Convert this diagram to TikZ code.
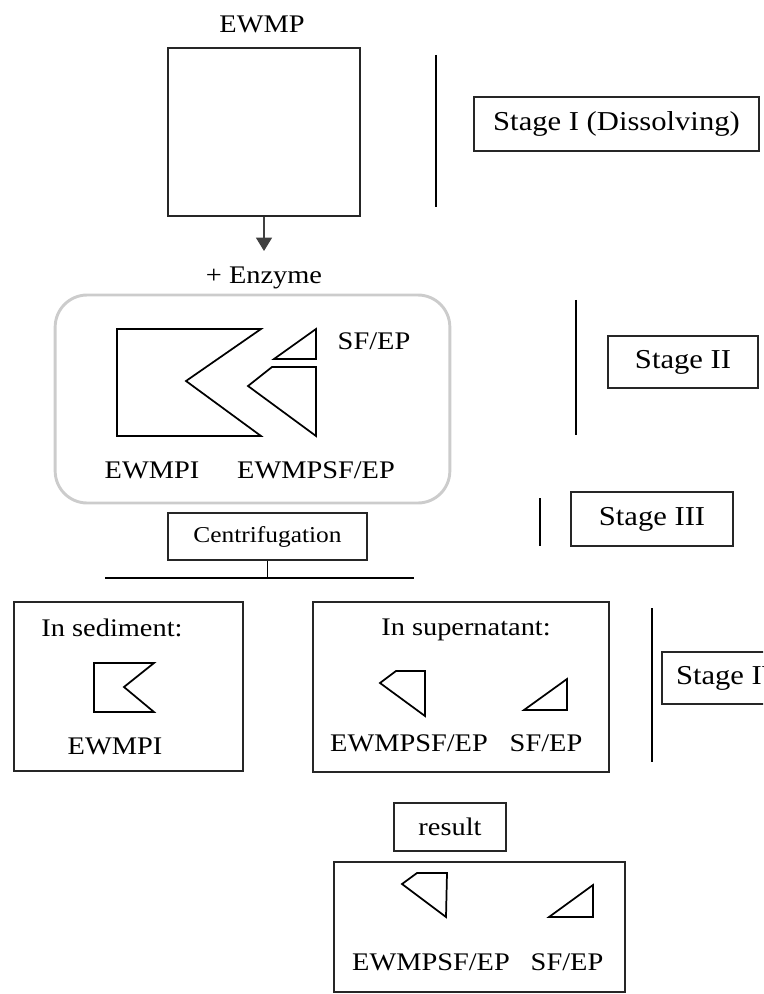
\documentclass[tikz,border=0pt]{standalone}
\usepackage{fontspec}
\setmainfont{Liberation Serif}[FakeStretch=1.12]
\usetikzlibrary{arrows.meta}

\tikzset{
  lbl/.style={font=\fontsize{19}{22}\selectfont,inner sep=0pt},
  stagebox/.style={draw=black!85,line width=1.2pt,font=\fontsize{20.5}{24}\selectfont},
  framebox/.style={draw=black!85,line width=1.2pt},
  piece/.style={line width=1.3pt},
  stagebar/.style={line width=1.8pt},
}

\begin{document}
\begin{tikzpicture}[x=0.75pt,y=-0.75pt,>={Triangle[width=12pt,length=10pt]}]
        \useasboundingbox(0,0)rectangle(763,994);
        \clip(0,0)rectangle(763,994);
        % stage I
        \node[lbl](ewmplbl)at(262,24){EWMP};
        \node[framebox,minimum width=144pt,minimum height=126pt](ewmp)at(264,132){};
        \coordinate(tip)at(264,251);
        \draw[->,black!75,line width=0.8pt](ewmp.south)--(tip);
        \draw[stagebar](436,55)--(436,207);
        \node[stagebox,minimum width=213.75pt,minimum height=40.5pt](stage1)at(616.5,124){Stage I (Dissolving)};
        % stage II
        \node[lbl](enzyme)at(264,278){+ Enzyme};
        \node[draw=gray!40,line width=2.2pt,rounded corners=24pt,minimum width=296pt,minimum height=156pt](mix)at(252.5,399){};
        \draw[piece](117,329)--(261,329)--(186,381)--(261,436)--(117,436)--cycle;
        \draw[piece](274,359)--(316,329)--(316,359)--cycle;
        \draw[piece](272,367)--(316,367)--(316,436)--(248,386)--cycle;
        \node[lbl](sf1)at(374,341){SF/EP};
        \node[lbl](ewmpi1)at(152,470){EWMPI};
        \node[lbl](ewmpsf1)at(316,470){EWMPSF/EP};
        \draw[stagebar](576,300)--(576,435);
        \node[stagebox,minimum width=112.5pt,minimum height=39pt](stage2)at(683,362){Stage II};
        % stage III
        \node[framebox,font=\fontsize{17}{20}\selectfont,minimum width=149pt,minimum height=35pt](centri)at(267.5,536.5){Centrifugation};
        \coordinate(bar)at(105,578);
        \draw[line width=1.2pt](bar)--(414,578);
        \draw[line width=1.2pt](centri.south)--(centri.south|-bar);
        \draw[stagebar](540,498)--(540,546);
        \node[stagebox,minimum width=121.5pt,minimum height=40.5pt](stage3)at(652,519){Stage III};
        % stage IV
        \node[framebox,minimum width=171.75pt,minimum height=126.75pt](sediment)at(128.5,686.5){};
        \node[lbl](sedlbl)at(112,628){In sediment:};
        \draw[piece](94,663)--(154,663)--(124,687)--(154,712)--(94,712)--cycle;
        \node[lbl](ewmpi2)at(115,746){EWMPI};
        \node[framebox,minimum width=222pt,minimum height=127.5pt](super)at(461,687){};
        \node[lbl](suplbl)at(466,630){In supernatant:};
        \draw[piece](380,683)--(396,671)--(425,671)--(425,716)--cycle;
        \draw[piece](524,710)--(567,679)--(567,710)--cycle;
        \node[lbl](ewmpsf2)at(409,743){EWMPSF/EP};
        \node[lbl](sf2)at(546,743){SF/EP};
        \draw[stagebar](652,608)--(652,762);
        \node[stagebox,minimum width=102pt,minimum height=39pt](stage4)at(730,678){Stage IV};
        % result
        \node[framebox,font=\fontsize{19}{22}\selectfont,minimum width=84pt,minimum height=36pt](result)at(450,827){result};
        \node[framebox,minimum width=218pt,minimum height=97.5pt](final)at(479.5,927){};
        \draw[piece](402,884)--(417,873)--(447,873)--(446,917)--cycle;
        \draw[piece](549,917)--(593,885)--(593,917)--cycle;
        \node[lbl](ewmpsf3)at(431,962){EWMPSF/EP};
        \node[lbl](sf3)at(567,962){SF/EP};
    \end{tikzpicture}
\end{document}
